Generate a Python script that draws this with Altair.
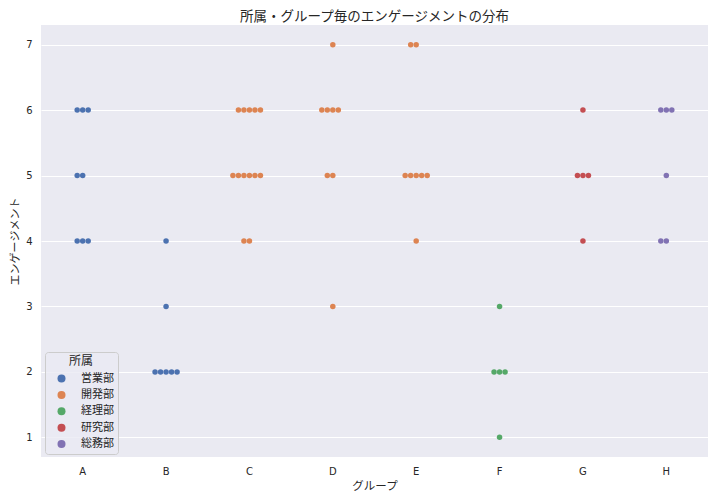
import altair as alt
import pandas as pd

# Groups and the department each belongs to
group_names = ["A", "B", "C", "D", "E", "F", "G", "H"]
group_depts = ["営業部", "営業部", "開発部", "開発部", "開発部", "経理部", "研究部", "総務部"]

# Observed (group, score, count) cells
cell_groups = ["A", "A", "A",
               "B", "B", "B",
               "C", "C", "C",
               "D", "D", "D", "D",
               "E", "E", "E",
               "F", "F", "F",
               "G", "G", "G",
               "H", "H", "H"]
cell_scores = [6, 5, 4,
               4, 3, 2,
               6, 5, 4,
               7, 6, 5, 3,
               7, 5, 4,
               3, 2, 1,
               6, 5, 4,
               6, 5, 4]
cell_counts = [3, 2, 3,
               1, 1, 5,
               5, 6, 2,
               1, 4, 2, 1,
               2, 5, 1,
               1, 3, 1,
               1, 3, 1,
               3, 1, 2]

departments = ["営業部", "開発部", "経理部", "研究部", "総務部"]
dept_colors = ["#4C72B0", "#DD8452", "#55A868", "#C44E52", "#8172B3"]

dept_of = dict(zip(group_names, group_depts))

# swarm placement: centre first, then alternate left / right
rows = []
for g, s, n in zip(cell_groups, cell_scores, cell_counts):
    for k in range(n):
        slot = 0 if k == 0 else ((-(k + 1) // 2) if k % 2 == 1 else (k // 2))
        rows.append({"グループ": g, "エンゲージメント": s, "所属": dept_of[g], "slot": slot})
df = pd.DataFrame(rows)

FONT = "DejaVu Sans, Noto Sans CJK JP"
TXT = "#262626"

chart = alt.Chart(df).mark_circle(size=30, opacity=1).encode(
    x=alt.X("グループ:N", sort=group_names,
            scale=alt.Scale(paddingInner=0, paddingOuter=0),
            axis=alt.Axis(title="グループ", labelAngle=0, grid=False, ticks=False, tickSize=0,
                          domain=False, labelPadding=9, titlePadding=4,
                          labelFontSize=10, titleFontSize=11.5,
                          labelColor=TXT, titleColor=TXT, titleFontWeight="normal")),
    xOffset=alt.XOffset("slot:Q", scale=alt.Scale(domain=[-7.57, 7.57])),
    y=alt.Y("エンゲージメント:Q", scale=alt.Scale(domain=[0.7, 7.3], nice=False, zero=False),
            axis=alt.Axis(title="エンゲージメント", values=[1, 2, 3, 4, 5, 6, 7], grid=True,
                          gridColor="white", gridWidth=1, ticks=False, tickSize=0, domain=False,
                          labelPadding=9, titlePadding=5, labelFontSize=10, titleFontSize=11,
                          labelColor=TXT, titleColor=TXT, titleFontWeight="normal")),
    color=alt.Color("所属:N", scale=alt.Scale(domain=departments, range=dept_colors),
                    legend=alt.Legend(title="所属", orient="none", legendX=4, legendY=327,
                                      fillColor="rgba(234,234,242,0.8)", strokeColor="#cccccc",
                                      cornerRadius=3, padding=4, symbolOffset=7, symbolSize=64,
                                      symbolType="circle", symbolStrokeWidth=0, labelOffset=14,
                                      labelFontSize=11, titleFontSize=12, titleFontWeight="normal",
                                      titleAnchor="middle", titlePadding=5, rowPadding=4.4,
                                      labelColor=TXT, titleColor=TXT)),
).properties(
    width=667, height=432,
    title=alt.TitleParams("所属・グループ毎のエンゲージメントの分布", fontSize=13.5, fontWeight="normal",
                          color=TXT, offset=2, anchor="middle"),
    autosize=alt.AutoSizeParams(type="none"),
    padding={"left": 33, "top": 17, "right": 0, "bottom": 37},
).configure(font=FONT, background="white").configure_view(fill="#EAEAF2", stroke=None)

chart.save("out.html", embed_options={"renderer": "svg", "actions": False})
